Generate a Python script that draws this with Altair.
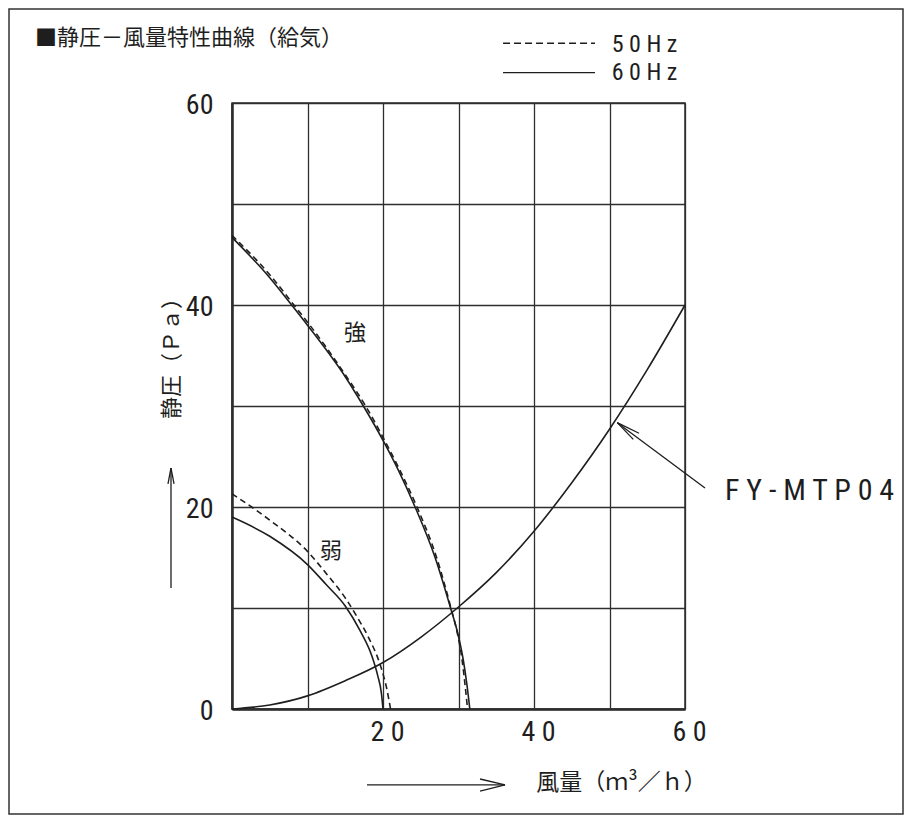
import altair as alt
import pandas as pd

# ---------------- data ----------------
# 強 (high speed)
strong60_x = [0, 5, 7.9, 10, 15, 17.4, 20, 22, 24.25, 26.9, 28.95, 29.9, 30.6, 31.1, 31.5]
strong60_y = [46.7, 42.7, 40.0, 38.0, 32.9, 30.0, 26.6, 23.7, 20.0, 15.0, 10.0, 7.5, 5.0, 2.5, 0.0]
strong50_x = [0, 5, 8.2, 10, 15, 17.7, 20, 22, 24.5, 27.1, 29.0, 29.85, 30.45, 30.85, 31.2]
strong50_y = [46.9, 43.0, 40.0, 38.3, 33.1, 30.0, 26.9, 24.0, 20.0, 15.0, 10.0, 7.5, 5.0, 2.5, 0.0]
# 弱 (low speed)
weak60_x = [0, 5, 10, 12.5, 15, 17, 18.5, 19.3, 19.8, 20.0]
weak60_y = [19.0, 17.1, 14.3, 12.3, 10.2, 7.7, 5.3, 3.3, 1.5, 0.0]
weak50_x = [0, 2.6, 5, 10, 12.5, 15, 16.5, 18, 19.7, 20.5, 21.0]
weak50_y = [21.3, 20.0, 18.7, 15.6, 13.4, 11.0, 9.2, 7.2, 4.2, 2.0, 0.0]
# FY-MTP04 duct resistance curve
duct_x = [0, 5, 10, 15, 20, 25, 30, 35, 40, 45, 50, 55, 60]
duct_y = [0, 0.4, 1.3, 2.8, 4.6, 7.1, 10.1, 13.5, 17.6, 22.4, 27.7, 33.6, 40.0]

grid_values = [0, 10, 20, 30, 40, 50, 60]
x_tick_values = [20, 40, 60]
x_tick_labels = ["20", "40", "60"]
y_tick_values = [0, 20, 40, 60]
y_tick_labels = ["0", "20", "40", "60"]

title_text = "■静圧－風量特性曲線（給気）"
y_title_text = "静圧（Ｐａ）"
x_title_text = "風量（ｍ³／ｈ）"
legend_labels = ["50Hz", "60Hz"]
curve_labels = ["強", "弱"]
model_label = "FY-MTP04"

# ---------------- build tables ----------------
def curve(name, freq, xs, ys):
    return pd.DataFrame({"x": xs, "y": ys, "curve": name, "freq": freq})

curves = pd.concat([
    curve("強60", "60Hz", strong60_x, strong60_y),
    curve("強50", "50Hz", strong50_x, strong50_y),
    curve("弱60", "60Hz", weak60_x, weak60_y),
    curve("弱50", "50Hz", weak50_x, weak50_y),
    curve("duct", "60Hz", duct_x, duct_y),
], ignore_index=True)

def spaced(s):
    return " ".join(list(s))

LATIN = "Liberation Sans Narrow, Roboto Condensed, DejaVu Sans Condensed, sans-serif"
CJK = "Noto Sans CJK JP"
INK = "#1e1e1e"
GRID = "#2e2e2e"

def label_expr(values, labels, fn=lambda s: s):
    expr = "''"
    for v, l in reversed(list(zip(values, labels))):
        expr = f"datum.value == {v} ? '{fn(l)}' : ({expr})"
    return expr

W, H = 453, 606
xsc = alt.Scale(domain=[0, 60], nice=False, zero=False)
ysc = alt.Scale(domain=[0, 60], nice=False, zero=False)

x_axis = alt.Axis(values=grid_values, title=None, grid=True, ticks=False,
                  labelExpr=label_expr(x_tick_values, x_tick_labels, spaced),
                  labelFont=LATIN, labelFontSize=28, labelColor=INK,
                  labelPadding=9, labelFlush=False, labelOverlap=False,
                  labelAngle=0, labelOffset=4,
                  gridColor=GRID, gridWidth=1.3, domainColor=GRID, domainWidth=2.5)
y_axis = alt.Axis(values=grid_values, title=None, grid=True, ticks=False,
                  labelExpr=label_expr(y_tick_values, y_tick_labels),
                  labelFont=LATIN, labelFontSize=28, labelColor=INK,
                  labelPadding=19, labelFlush=False, labelOverlap=False,
                  labelBaseline="middle", labelOffset=2,
                  gridColor=GRID, gridWidth=1.3, domainColor=GRID, domainWidth=2.5)

base = alt.Chart(curves)

solid = base.transform_filter(alt.datum.freq == "60Hz").mark_line(
    interpolate="monotone", color=INK, strokeWidth=1.6
).encode(
    x=alt.X("x:Q", scale=xsc, axis=x_axis),
    y=alt.Y("y:Q", scale=ysc, axis=y_axis),
    detail="curve:N",
    order="x:Q",
)
dashed = base.transform_filter(alt.datum.freq == "50Hz").mark_line(
    interpolate="monotone", color=INK, strokeWidth=1.6, strokeDash=[6, 4]
).encode(x="x:Q", y="y:Q", detail="curve:N", order="x:Q")

# ---------------- annotation geometry (data units) ----------------
seg = pd.DataFrame({
    "x":  [-8.08, -8.08, -8.08, 17.88, 36.16, 36.16, 62.65, 51.03, 51.03, 35.9],
    "y":  [11.98, 23.86, 23.86, -7.52, -7.52, -7.52, 21.88, 28.35, 28.35, 63.0],
    "x2": [-8.08, -8.48, -7.68, 36.16, 32.85, 32.85, 51.03, 53.91, 53.15, 48.08],
    "y2": [23.86, 22.28, 22.28, -7.52, -6.93, -8.12, 28.35, 27.30, 26.70, 63.0],
})
segments = alt.Chart(seg).mark_rule(color=INK, strokeWidth=1.3).encode(
    x="x:Q", y="y:Q", x2="x2:Q", y2="y2:Q")

leg_dash = alt.Chart(pd.DataFrame({"x": [35.9], "y": [65.91], "x2": [48.08]})).mark_rule(
    color=INK, strokeWidth=1.4, strokeDash=[7, 4]).encode(x="x:Q", y="y:Q", x2="x2:Q")

leg_text = alt.Chart(pd.DataFrame({
    "x": [50.29, 50.29], "y": [65.82, 63.05],
    "t": [spaced(s) for s in legend_labels]})).mark_text(
    font=LATIN, fontSize=24, align="left", baseline="middle", color=INK, dy=1
).encode(x="x:Q", y="y:Q", text="t:N")

model_text = alt.Chart(pd.DataFrame({"x": [65.3], "y": [21.68], "t": [spaced(model_label)]})).mark_text(
    font=LATIN, fontSize=30, align="left", baseline="middle", color=INK, dy=1
).encode(x="x:Q", y="y:Q", text="t:N")

cjk_text = alt.Chart(pd.DataFrame({
    "x": [16.3, 13.1],
    "y": [37.2, 15.6],
    "t": curve_labels})).mark_text(
    font=CJK, fontSize=22, align="center", baseline="middle", color=INK
).encode(x="x:Q", y="y:Q", text="t:N")

x_title = alt.Chart(pd.DataFrame({"x": [51.6], "y": [-7.33], "t": [x_title_text]})).mark_text(
    font=CJK, fontSize=23, align="center", baseline="middle", color=INK
).encode(x="x:Q", y="y:Q", text="t:N")

title_mark = alt.Chart(pd.DataFrame({"x": [-26.09], "y": [66.44], "t": [title_text]})).mark_text(
    font=CJK, fontSize=22, align="left", baseline="middle", color=INK
).encode(x="x:Q", y="y:Q", text="t:N")

y_title = alt.Chart(pd.DataFrame({"x": [-8.0], "y": [35.25], "t": [y_title_text]})).mark_text(
    font=CJK, fontSize=22, align="center", baseline="middle", angle=270, color=INK
).encode(x="x:Q", y="y:Q", text="t:N")

frame = alt.Chart(pd.DataFrame({"a": [0]})).mark_rect(
    filled=False, stroke="#333333", strokeWidth=1.5
).encode(x=alt.value(-223), x2=alt.value(671), y=alt.value(-94), y2=alt.value(711))

chart = alt.layer(
    solid, dashed, segments, leg_dash, leg_text, model_text, cjk_text, x_title,
    title_mark, y_title, frame
).properties(
    width=W, height=H,
    padding={"left": 224, "top": 95, "right": 219, "bottom": 106},
    autosize=alt.AutoSizeParams(type="none"),
    background="white",
).configure_view(stroke=GRID, strokeWidth=1.5)

chart.save("out.html", embed_options={"renderer": "svg", "actions": False})
